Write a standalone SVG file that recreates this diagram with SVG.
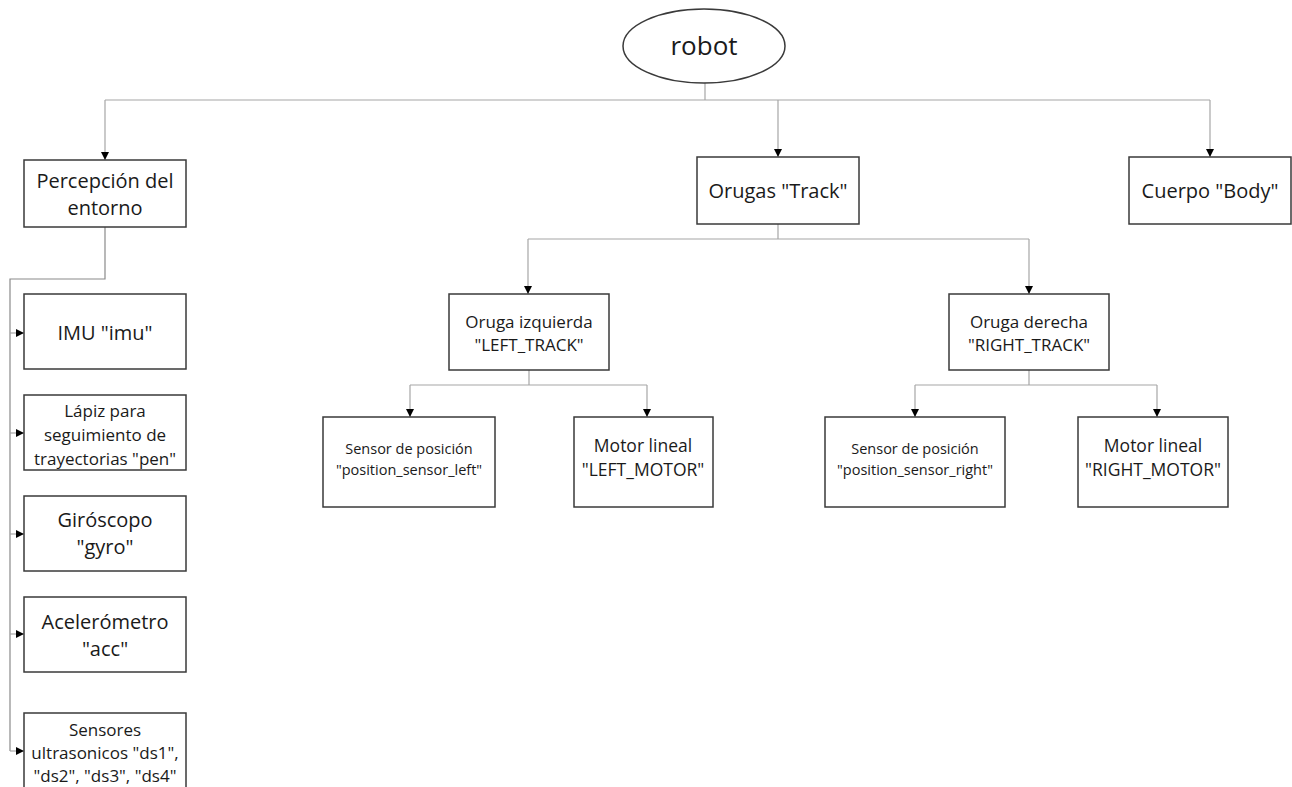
<svg xmlns="http://www.w3.org/2000/svg" width="1292" height="787" viewBox="0 0 1292 787">
<style>
.box{fill:#fff;stroke:#3a3a3a;stroke-width:1.5}
.t{font-family:"Open Sans","Liberation Sans",sans-serif;fill:#1a1a1a;text-anchor:middle;dominant-baseline:central}
.c{fill:none;stroke:#a6a6a6;stroke-width:1.2}
.f22{font-size:20px}
.f18{font-size:17px}
.f16{font-size:14.5px}
.f20{font-size:17.5px}
</style>
<defs>
<marker id="ar" markerUnits="userSpaceOnUse" markerWidth="8" markerHeight="8" refX="8" refY="4" orient="auto">
<path d="M0,0 L8,4 L0,8 z" fill="#000"/>
</marker>
</defs>
<rect width="1292" height="787" fill="#fff"/>
<g id="connectors">
<path class="c" d="M705,83 V100"/>
<path class="c" d="M105,100 H1210"/>
<path class="c" d="M105,100 V160" marker-end="url(#ar)"/>
<path class="c" d="M778,100 V157" marker-end="url(#ar)"/>
<path class="c" d="M1210,100 V157" marker-end="url(#ar)"/>
<path class="c" d="M105,227 V279 H10 V751" style="stroke:#8a8a8a"/>
<path class="c" d="M10,333 H24" marker-end="url(#ar)"/>
<path class="c" d="M10,433 H24" marker-end="url(#ar)"/>
<path class="c" d="M10,534 H24" marker-end="url(#ar)"/>
<path class="c" d="M10,634 H24" marker-end="url(#ar)"/>
<path class="c" d="M10,751 H24" marker-end="url(#ar)"/>
<path class="c" d="M778,224 V239"/>
<path class="c" d="M528,239 H1029"/>
<path class="c" d="M528,239 V294" marker-end="url(#ar)"/>
<path class="c" d="M1029,239 V294" marker-end="url(#ar)"/>
<path class="c" d="M529,370 V385"/>
<path class="c" d="M410,385 H647"/>
<path class="c" d="M410,385 V417" marker-end="url(#ar)"/>
<path class="c" d="M647,385 V417" marker-end="url(#ar)"/>
<path class="c" d="M1029,370 V385"/>
<path class="c" d="M915,385 H1157"/>
<path class="c" d="M915,385 V417" marker-end="url(#ar)"/>
<path class="c" d="M1157,385 V417" marker-end="url(#ar)"/>
</g>
<g id="robot">
<ellipse cx="704" cy="46" rx="81" ry="37" class="box"/>
<text class="t" x="704" y="45" font-size="26">robot</text>
</g>
<g id="percepcion">
<rect class="box" x="24" y="160" width="162" height="67"/>
<text class="t f22" x="105" y="180">Percepción del</text>
<text class="t f22" x="105" y="207">entorno</text>
</g>
<g id="orugas">
<rect class="box" x="697" y="157" width="162" height="67"/>
<text class="t f22" x="778" y="190">Orugas "Track"</text>
</g>
<g id="cuerpo">
<rect class="box" x="1129" y="157" width="162" height="67"/>
<text class="t f22" x="1210" y="190">Cuerpo "Body"</text>
</g>
<g id="imu">
<rect class="box" x="24" y="294" width="162" height="75"/>
<text class="t f22" x="105" y="332">IMU "imu"</text>
</g>
<g id="lapiz">
<rect class="box" x="24" y="395" width="162" height="75"/>
<text class="t f18" x="105" y="410">Lápiz para</text>
<text class="t f18" x="105" y="434">seguimiento de</text>
<text class="t f18" x="105" y="458">trayectorias "pen"</text>
</g>
<g id="giroscopo">
<rect class="box" x="24" y="496" width="162" height="75"/>
<text class="t f22" x="105" y="519">Giróscopo</text>
<text class="t f22" x="105" y="546">"gyro"</text>
</g>
<g id="acelerometro">
<rect class="box" x="24" y="597" width="162" height="75"/>
<text class="t f22" x="105" y="621">Acelerómetro</text>
<text class="t f22" x="105" y="648">"acc"</text>
</g>
<g id="sensores">
<rect class="box" x="24" y="713" width="162" height="80"/>
<text class="t f18" x="105" y="729">Sensores</text>
<text class="t f18" x="105" y="752">ultrasonicos "ds1",</text>
<text class="t f18" x="105" y="775">"ds2", "ds3", "ds4"</text>
</g>
<g id="oruga-izq">
<rect class="box" x="449" y="294" width="160" height="76"/>
<text class="t f18" x="529" y="321">Oruga izquierda</text>
<text class="t f18" x="529" y="344">"LEFT_TRACK"</text>
</g>
<g id="oruga-der">
<rect class="box" x="949" y="294" width="160" height="76"/>
<text class="t f18" x="1029" y="321">Oruga derecha</text>
<text class="t f18" x="1029" y="344">"RIGHT_TRACK"</text>
</g>
<g id="sensor-left">
<rect class="box" x="323" y="417" width="172" height="90"/>
<text class="t f16" x="409" y="448">Sensor de posición</text>
<text class="t f16" x="409" y="469">"position_sensor_left"</text>
</g>
<g id="motor-left">
<rect class="box" x="574" y="417" width="139" height="90"/>
<text class="t f20" x="643" y="445">Motor lineal</text>
<text class="t f20" x="643" y="469">"LEFT_MOTOR"</text>
</g>
<g id="sensor-right">
<rect class="box" x="825" y="417" width="180" height="90"/>
<text class="t f16" x="915" y="448">Sensor de posición</text>
<text class="t f16" x="915" y="469">"position_sensor_right"</text>
</g>
<g id="motor-right">
<rect class="box" x="1078" y="417" width="150" height="90"/>
<text class="t f20" x="1153" y="445">Motor lineal</text>
<text class="t f20" x="1153" y="469">"RIGHT_MOTOR"</text>
</g>
</svg>
